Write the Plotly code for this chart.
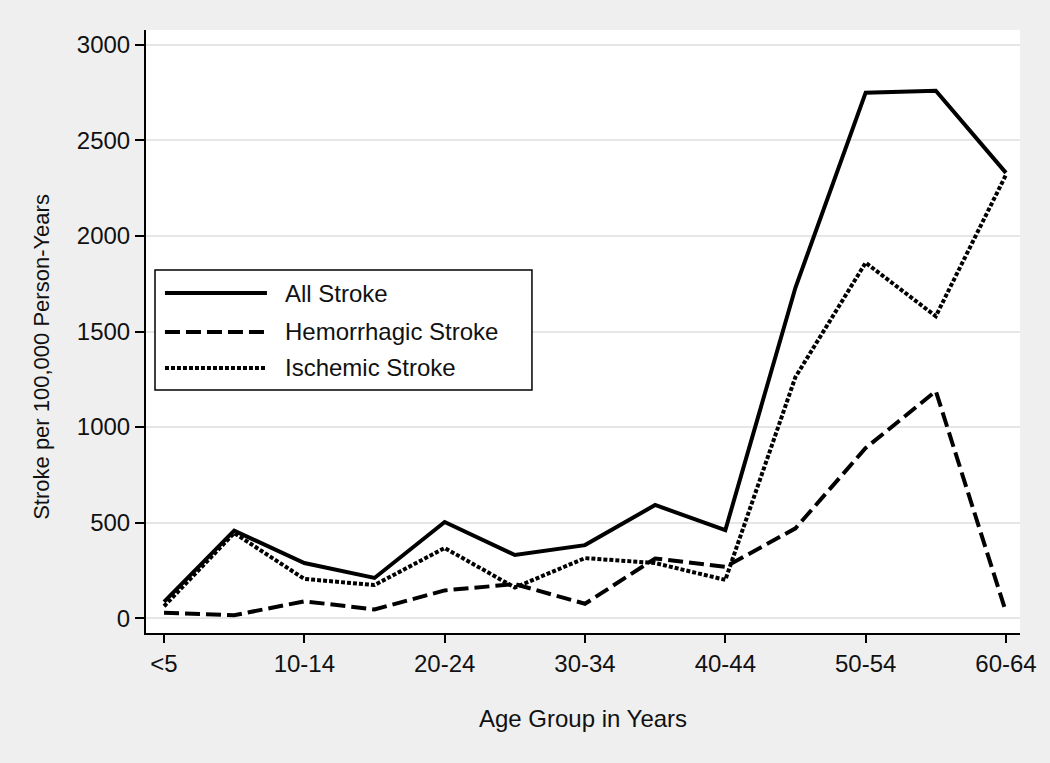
import plotly.graph_objects as go

# Age groups (x categories) and tick labels
age_groups = ["<5", "5-9", "10-14", "15-19", "20-24", "25-29", "30-34",
              "35-39", "40-44", "45-49", "50-54", "55-59", "60-64"]
tick_labels = ["<5", "10-14", "20-24", "30-34", "40-44", "50-54", "60-64"]
tick_positions = [0, 2, 4, 6, 8, 10, 12]
y_ticks = [0, 500, 1000, 1500, 2000, 2500, 3000]

# Stroke per 100,000 person-years
all_stroke = [85, 458, 288, 210, 503, 330, 382, 592, 460, 1730, 2750, 2760, 2330]
hemorrhagic = [28, 15, 88, 45, 145, 178, 75, 312, 268, 470, 890, 1188, 32]
ischemic = [62, 445, 205, 173, 367, 160, 314, 288, 200, 1262, 1860, 1580, 2320]

series_names = ["All Stroke", "Hemorrhagic Stroke", "Ischemic Stroke"]
series_values = [all_stroke, hemorrhagic, ischemic]
series_dash = ["solid", "15px,6px", "4px,2px"]

FONT = "Liberation Sans, Arial, sans-serif"
TEXT = "#111111"
BG = "#efefef"

x_idx = list(range(len(age_groups)))

fig = go.Figure()
for name, vals, dash in zip(series_names, series_values, series_dash):
    fig.add_trace(
        go.Scatter(
            x=x_idx,
            y=vals,
            mode="lines",
            name=name,
            line=dict(color="#000000", width=4, dash=dash),
            showlegend=False,
        )
    )

# --- Legend box drawn by hand (Stata-style long line samples) ---
shapes = [
    dict(type="rect", xref="paper", yref="paper", x0=0.0103, x1=0.4416,
         y0=0.403, y1=0.602, line=dict(color="#000000", width=1.5),
         fillcolor="#ffffff", layer="above"),
]
annotations = []
row_y = [0.5638, 0.4992, 0.4395]
for name, dash, yy in zip(series_names, series_dash, row_y):
    shapes.append(dict(type="line", xref="paper", yref="paper", x0=0.0217,
                       x1=0.1384, y0=yy, y1=yy, layer="above",
                       line=dict(color="#000000", width=4, dash=dash)))
    annotations.append(dict(xref="paper", yref="paper", x=0.1568, y=yy,
                            text=name, showarrow=False, xanchor="left",
                            yanchor="middle",
                            font=dict(family=FONT, size=24, color=TEXT)))

# y-axis title sits a little below the plot centre in the original
annotations.append(dict(xref="paper", yref="paper", x=-0.119, y=0.458,
                        text="Stroke per 100,000 Person-Years", textangle=-90,
                        showarrow=False, xanchor="center", yanchor="middle",
                        font=dict(family=FONT, size=22, color=TEXT)))

fig.update_layout(
    width=1050,
    height=763,
    paper_bgcolor=BG,
    plot_bgcolor="#ffffff",
    margin=dict(l=146, r=30, t=30, b=130),
    font=dict(family=FONT, size=24, color=TEXT),
    shapes=shapes,
    annotations=annotations,
    xaxis=dict(
        range=[-0.257, 12.2],
        tickmode="array",
        tickvals=tick_positions,
        ticktext=tick_labels,
        showgrid=False,
        zeroline=False,
        showline=True,
        linecolor="#000000",
        linewidth=2,
        ticks="outside",
        ticklen=8,
        tickwidth=1.5,
        tickcolor="#000000",
        tickfont=dict(family=FONT, size=24, color=TEXT),
        title=dict(text="Age Group in Years", standoff=34,
                   font=dict(family=FONT, size=24, color=TEXT)),
    ),
    yaxis=dict(
        range=[-78, 3078],
        tickmode="array",
        tickvals=y_ticks,
        showgrid=True,
        gridcolor="#e6e6e6",
        gridwidth=1.5,
        zeroline=False,
        showline=True,
        linecolor="#000000",
        linewidth=2,
        ticks="outside",
        ticklen=9,
        tickwidth=1.5,
        tickcolor="#000000",
        tickfont=dict(family=FONT, size=24, color=TEXT),
    ),
)

# drop the page's default body margin so the figure fills the window
fig.write_html(
    "out.html",
    config={"displayModeBar": False},
    post_script="document.body.style.margin='0';"
                "document.body.style.background='#efefef';",
)
